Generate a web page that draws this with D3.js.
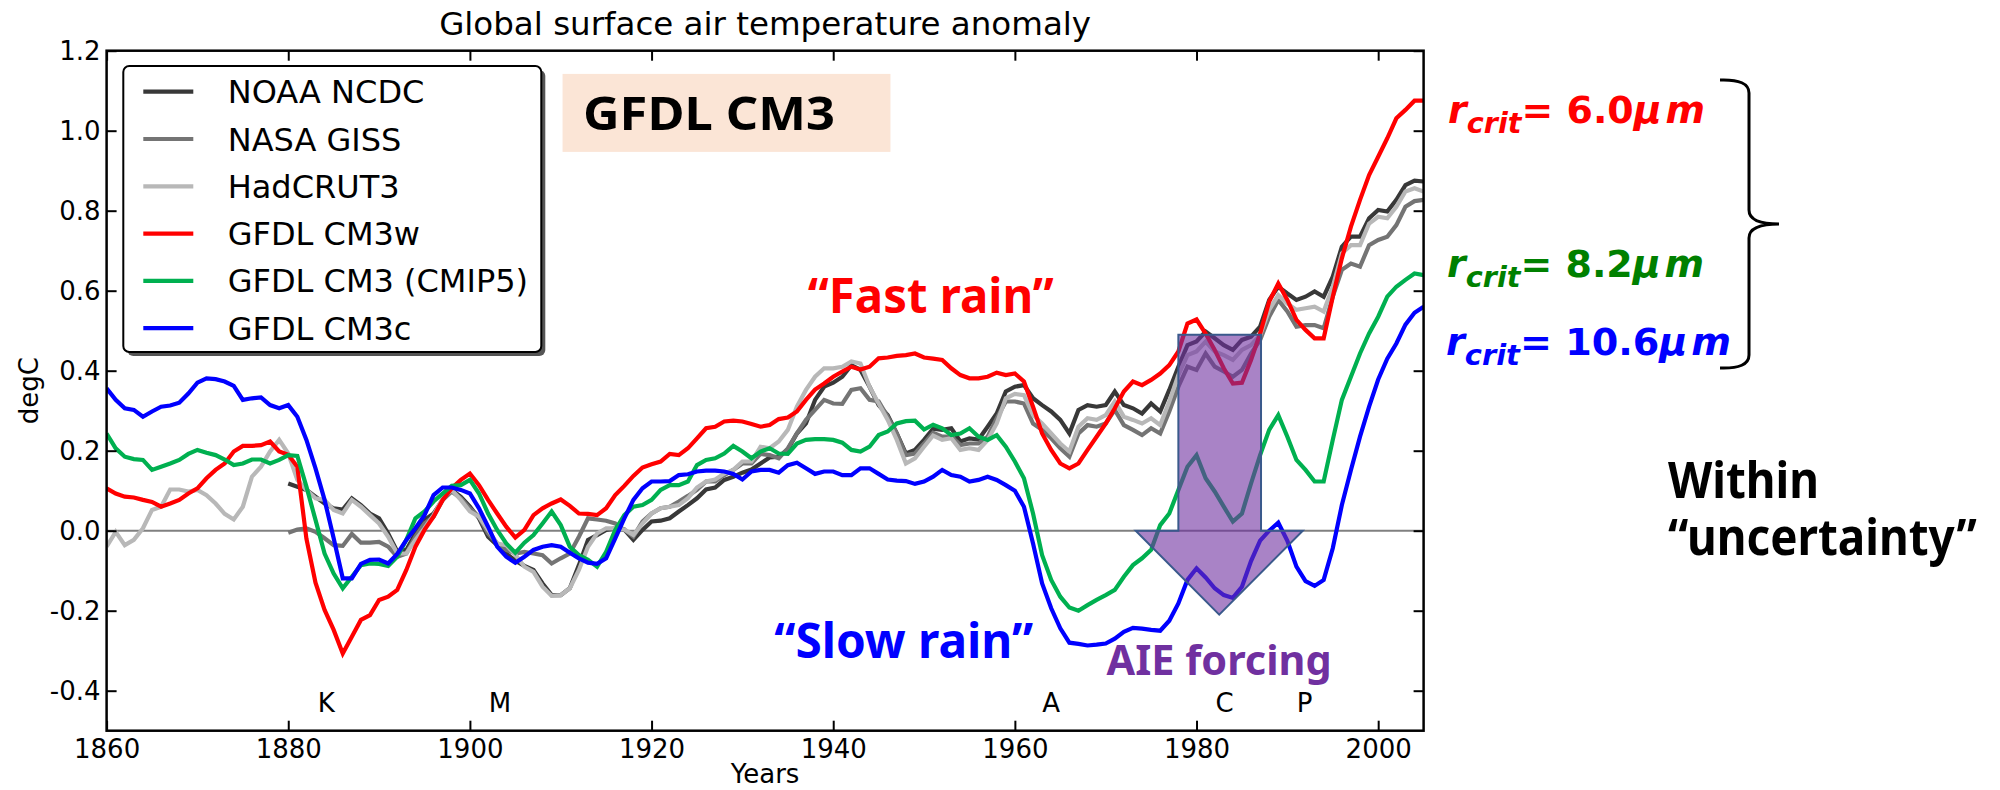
<!DOCTYPE html>
<html>
<head>
<meta charset="utf-8">
<script src="https://cdn.jsdelivr.net/npm/d3@7"></script>
<style>
  body { margin: 0; background: #fff; }
  svg { display: block; }
</style>
</head>
<body>
<svg id="chart" width="2000" height="790"></svg>
<script>
// ---- data: annual global-mean surface air temperature anomaly (degC) ----
const modelYears = d3.range(1860, 2006);
const obsYears = d3.range(1880, 2006);

const noaaNcdc = [
  0.118, 0.110, 0.102, 0.085, 0.068, 0.056, 0.053, 0.081, 0.064, 0.043,
  0.031, -0.007, -0.052, -0.048, -0.007, 0.027, 0.043, 0.077, 0.102, 0.085,
  0.060, 0.031, -0.015, -0.036, -0.057, -0.075, -0.088, -0.098, -0.132, -0.161,
  -0.161, -0.144, -0.086, -0.023, -0.011, 0.002, 0.006, 0.003, -0.023, 0.002,
  0.023, 0.025, 0.031, 0.048, 0.064, 0.081, 0.103, 0.108, 0.127, 0.135,
  0.145, 0.153, 0.168, 0.183, 0.185, 0.203, 0.243, 0.268, 0.327, 0.360,
  0.370, 0.385, 0.414, 0.402, 0.360, 0.314, 0.289, 0.243, 0.193, 0.202,
  0.227, 0.255, 0.252, 0.256, 0.223, 0.231, 0.228, 0.260, 0.293, 0.348,
  0.360, 0.364, 0.331, 0.314, 0.298, 0.277, 0.243, 0.302, 0.314, 0.310,
  0.314, 0.348, 0.314, 0.306, 0.293, 0.318, 0.298, 0.352, 0.410, 0.464,
  0.473, 0.498, 0.481, 0.464, 0.452, 0.477, 0.485, 0.510, 0.577, 0.610,
  0.593, 0.577, 0.585, 0.598, 0.585, 0.635, 0.710, 0.735, 0.735, 0.781,
  0.802, 0.798, 0.827, 0.864, 0.875, 0.873
];

const nasaGiss = [
  -0.005, 0.003, 0.006, -0.003, -0.019, -0.036, -0.038, -0.008, -0.030, -0.030,
  -0.028, -0.040, -0.065, -0.057, -0.015, 0.018, 0.035, 0.077, 0.098, 0.081,
  0.056, 0.035, -0.007, -0.032, -0.048, -0.057, -0.053, -0.057, -0.061, -0.082,
  -0.069, -0.057, -0.015, 0.031, 0.028, 0.025, 0.018, 0.002, -0.015, 0.023,
  0.043, 0.056, 0.060, 0.073, 0.087, 0.102, 0.123, 0.123, 0.139, 0.152,
  0.168, 0.168, 0.192, 0.189, 0.181, 0.206, 0.243, 0.277, 0.302, 0.327,
  0.318, 0.317, 0.352, 0.356, 0.327, 0.323, 0.285, 0.243, 0.189, 0.193,
  0.218, 0.245, 0.235, 0.235, 0.214, 0.218, 0.218, 0.235, 0.281, 0.323,
  0.323, 0.318, 0.268, 0.252, 0.231, 0.206, 0.185, 0.243, 0.264, 0.260,
  0.268, 0.302, 0.264, 0.252, 0.239, 0.256, 0.243, 0.298, 0.360, 0.410,
  0.402, 0.443, 0.410, 0.398, 0.385, 0.402, 0.443, 0.477, 0.535, 0.577,
  0.548, 0.510, 0.514, 0.514, 0.506, 0.585, 0.652, 0.668, 0.660, 0.714,
  0.727, 0.735, 0.764, 0.810, 0.824, 0.827
];

const hadcrut3 = [
  -0.040, -0.003, -0.036, -0.023, 0.006, 0.052, 0.060, 0.103, 0.103, 0.098,
  0.102, 0.089, 0.068, 0.042, 0.028, 0.060, 0.135, 0.160, 0.198, 0.227,
  0.193, 0.127, 0.102, 0.081, 0.077, 0.052, 0.043, 0.077, 0.060, 0.039,
  0.018, -0.015, -0.057, -0.057, -0.023, 0.006, 0.039, 0.081, 0.102, 0.077,
  0.048, 0.035, 0.002, -0.032, -0.036, -0.060, -0.090, -0.103, -0.140, -0.163,
  -0.161, -0.144, -0.098, -0.040, -0.007, 0.006, 0.006, 0.003, -0.011, 0.018,
  0.043, 0.056, 0.060, 0.064, 0.081, 0.108, 0.123, 0.128, 0.143, 0.152,
  0.173, 0.173, 0.210, 0.206, 0.223, 0.252, 0.310, 0.352, 0.385, 0.406,
  0.406, 0.410, 0.423, 0.418, 0.360, 0.318, 0.277, 0.227, 0.168, 0.181,
  0.210, 0.238, 0.227, 0.231, 0.202, 0.206, 0.202, 0.227, 0.268, 0.331,
  0.342, 0.339, 0.289, 0.268, 0.243, 0.218, 0.198, 0.260, 0.281, 0.277,
  0.289, 0.323, 0.285, 0.277, 0.268, 0.281, 0.264, 0.323, 0.389, 0.439,
  0.448, 0.473, 0.448, 0.439, 0.427, 0.452, 0.464, 0.489, 0.552, 0.589,
  0.568, 0.552, 0.556, 0.560, 0.548, 0.610, 0.693, 0.714, 0.714, 0.768,
  0.785, 0.781, 0.810, 0.848, 0.856, 0.848
];

const cm3w = [
  0.106, 0.093, 0.085, 0.083, 0.077, 0.072, 0.060, 0.068, 0.077, 0.093,
  0.106, 0.131, 0.152, 0.168, 0.198, 0.212, 0.212, 0.214, 0.223, 0.198,
  0.190, 0.160, -0.020, -0.130, -0.198, -0.248, -0.307, -0.265, -0.223, -0.211,
  -0.173, -0.165, -0.148, -0.098, -0.040, 0.002, 0.035, 0.077, 0.106, 0.127,
  0.143, 0.114, 0.077, 0.043, 0.010, -0.017, 0.002, 0.039, 0.056, 0.068,
  0.078, 0.062, 0.043, 0.042, 0.039, 0.056, 0.089, 0.112, 0.137, 0.158,
  0.166, 0.173, 0.192, 0.189, 0.206, 0.231, 0.256, 0.260, 0.273, 0.275,
  0.273, 0.267, 0.260, 0.264, 0.279, 0.283, 0.298, 0.327, 0.353, 0.368,
  0.385, 0.398, 0.410, 0.403, 0.410, 0.431, 0.433, 0.437, 0.439, 0.443,
  0.433, 0.430, 0.427, 0.406, 0.389, 0.381, 0.381, 0.385, 0.395, 0.389,
  0.393, 0.373, 0.310, 0.243, 0.202, 0.168, 0.156, 0.168, 0.202, 0.235,
  0.268, 0.306, 0.348, 0.373, 0.364, 0.377, 0.393, 0.414, 0.448, 0.518,
  0.528, 0.493, 0.452, 0.406, 0.368, 0.370, 0.427, 0.493, 0.573, 0.618,
  0.577, 0.527, 0.502, 0.481, 0.481, 0.585, 0.681, 0.760, 0.827, 0.889,
  0.935, 0.981, 1.031, 1.052, 1.075, 1.075
];

const cm3cmip5 = [
  0.243, 0.206, 0.185, 0.179, 0.177, 0.152, 0.160, 0.168, 0.177, 0.192,
  0.202, 0.195, 0.189, 0.178, 0.164, 0.168, 0.178, 0.178, 0.168, 0.177,
  0.189, 0.187, 0.110, 0.027, -0.057, -0.107, -0.144, -0.115, -0.086, -0.082,
  -0.083, -0.088, -0.065, -0.023, 0.031, 0.048, 0.073, 0.093, 0.112, 0.114,
  0.127, 0.093, 0.043, 0.002, -0.032, -0.055, -0.030, -0.011, 0.018, 0.048,
  0.014, -0.040, -0.061, -0.073, -0.090, -0.053, 0.002, 0.039, 0.060, 0.064,
  0.077, 0.102, 0.114, 0.114, 0.123, 0.164, 0.177, 0.181, 0.193, 0.212,
  0.198, 0.181, 0.198, 0.206, 0.193, 0.192, 0.218, 0.227, 0.229, 0.229,
  0.227, 0.220, 0.202, 0.198, 0.210, 0.239, 0.248, 0.268, 0.274, 0.275,
  0.253, 0.265, 0.256, 0.239, 0.243, 0.256, 0.235, 0.227, 0.239, 0.210,
  0.173, 0.131, 0.043, -0.061, -0.123, -0.165, -0.192, -0.200, -0.186, -0.173,
  -0.161, -0.148, -0.115, -0.086, -0.069, -0.048, 0.014, 0.043, 0.102, 0.160,
  0.189, 0.131, 0.098, 0.060, 0.023, 0.043, 0.118, 0.189, 0.252, 0.289,
  0.235, 0.177, 0.152, 0.123, 0.123, 0.227, 0.327, 0.385, 0.443, 0.493,
  0.535, 0.585, 0.610, 0.627, 0.643, 0.639
];

const cm3c = [
  0.356, 0.327, 0.306, 0.302, 0.285, 0.298, 0.310, 0.313, 0.320, 0.343,
  0.370, 0.381, 0.379, 0.373, 0.362, 0.327, 0.331, 0.333, 0.314, 0.306,
  0.314, 0.285, 0.227, 0.156, 0.077, -0.019, -0.119, -0.119, -0.083, -0.073,
  -0.072, -0.082, -0.058, -0.023, 0.006, 0.039, 0.089, 0.108, 0.108, 0.102,
  0.093, 0.056, 0.010, -0.040, -0.065, -0.080, -0.065, -0.048, -0.040, -0.036,
  -0.040, -0.055, -0.069, -0.080, -0.083, -0.069, -0.019, 0.031, 0.077, 0.106,
  0.123, 0.123, 0.124, 0.139, 0.141, 0.148, 0.150, 0.150, 0.148, 0.142,
  0.128, 0.148, 0.152, 0.152, 0.145, 0.164, 0.170, 0.156, 0.142, 0.148,
  0.148, 0.139, 0.139, 0.156, 0.156, 0.142, 0.128, 0.125, 0.124, 0.117,
  0.123, 0.135, 0.152, 0.139, 0.135, 0.123, 0.127, 0.135, 0.127, 0.114,
  0.100, 0.060, -0.032, -0.132, -0.194, -0.244, -0.280, -0.283, -0.287, -0.285,
  -0.282, -0.270, -0.253, -0.243, -0.245, -0.248, -0.250, -0.225, -0.182, -0.123,
  -0.094, -0.117, -0.144, -0.161, -0.168, -0.140, -0.076, -0.025, 0.000, 0.020,
  -0.025, -0.090, -0.126, -0.138, -0.123, -0.044, 0.064, 0.152, 0.235, 0.310,
  0.378, 0.430, 0.468, 0.515, 0.545, 0.560
];

const legendNames = ["NOAA NCDC", "NASA GISS", "HadCRUT3", "GFDL CM3w", "GFDL CM3 (CMIP5)", "GFDL CM3c"];
const seriesColors = ["#383838", "#747474", "#b8b8b8", "#ff0000", "#00b050", "#0000ff"];

const xTicks = [1860, 1880, 1900, 1920, 1940, 1960, 1980, 2000];
const yTicks = [-0.4, -0.2, 0.0, 0.2, 0.4, 0.6, 0.8, 1.0, 1.2];

// volcanic eruptions: Krakatoa, Santa Maria, Agung, El Chichon, Pinatubo
const eruptionLetters = ["K", "M", "A", "C", "P"];
const eruptionLabelYears = [1884.2, 1903.3, 1964.0, 1983.1, 1991.9];

const rcritValues = ["6.0", "8.2", "10.6"];
const rcritColors = ["#ff0000", "#008000", "#0000ff"];

// ---- layout ----
const svg = d3.select("#chart");
const x = d3.scaleLinear().domain([1860, 2005]).range([106.6, 1423.6]);
const y = d3.scaleLinear().domain([-0.5, 1.2]).range([730.7, 50.7]);
const [x0, x1] = x.range();
const [yb, yt] = y.range();

const series = [
  { years: obsYears, values: noaaNcdc },
  { years: obsYears, values: nasaGiss },
  { years: modelYears, values: hadcrut3 },
  { years: modelYears, values: cm3w },
  { years: modelYears, values: cm3cmip5 },
  { years: modelYears, values: cm3c }
].map((s, i) => ({ ...s, name: legendNames[i], color: seriesColors[i],
  points: s.years.map((yr, j) => [yr, s.values[j]]) }));

svg.append("defs").append("clipPath").attr("id", "plotClip")
  .append("rect").attr("x", x0).attr("y", yt).attr("width", x1 - x0).attr("height", yb - yt);

const FONT = "DejaVu Sans";
const ANNOT = "Noto Sans";

// title and axis labels
svg.append("text").attr("x", (x0 + x1) / 2).attr("y", 35)
  .attr("text-anchor", "middle").attr("font-family", FONT).attr("font-size", 32.5)
  .text("Global surface air temperature anomaly");
svg.append("text").attr("x", (x0 + x1) / 2).attr("y", 783)
  .attr("text-anchor", "middle").attr("font-family", FONT).attr("font-size", 26)
  .text("Years");
svg.append("text").attr("transform", `translate(38,${(yt + yb) / 2}) rotate(-90)`)
  .attr("text-anchor", "middle").attr("font-family", FONT).attr("font-size", 26)
  .text("degC");

// zero reference line
svg.append("line").attr("x1", x0).attr("x2", x1).attr("y1", y(0)).attr("y2", y(0))
  .attr("stroke", "#808080").attr("stroke-width", 2);

// series
const line = d3.line().x(d => x(d[0])).y(d => y(d[1]));
svg.append("g").attr("clip-path", "url(#plotClip)")
  .selectAll("path").data(series).join("path")
  .attr("d", d => line(d.points))
  .attr("fill", "none").attr("stroke", d => d.color)
  .attr("stroke-width", 4.2).attr("stroke-linejoin", "miter").attr("stroke-miterlimit", 4);

// aerosol indirect effect arrow
const aie = { shaft: [1978.0, 1987.1], head: [1973.3, 1991.7], top: 0.49, base: 0.0, tip: [1982.5, -0.21] };
const arrowPts = [
  [aie.shaft[0], aie.top], [aie.shaft[1], aie.top], [aie.shaft[1], aie.base],
  [aie.head[1], aie.base], [aie.tip[0], aie.tip[1]], [aie.head[0], aie.base],
  [aie.shaft[0], aie.base]
];
svg.append("path").attr("d", line(arrowPts) + "Z")
  .attr("fill", "rgba(112,48,160,0.6)").attr("stroke", "#3a5a8c").attr("stroke-width", 2)
  .attr("stroke-linejoin", "miter");

// axes: ticks point inward on all four sides
function styleAxis(g) {
  g.select(".domain").remove();
  g.selectAll(".tick line").attr("stroke", "#000").attr("stroke-width", 2);
  g.selectAll(".tick text").attr("fill", "#000");
  g.attr("font-family", FONT).attr("font-size", 26);
}
svg.append("g").attr("transform", `translate(0,${yb})`)
  .call(d3.axisBottom(x).tickValues(xTicks).tickSizeInner(-10).tickSizeOuter(0).tickPadding(9).tickFormat(d3.format("d")))
  .call(styleAxis);
svg.append("g").attr("transform", `translate(0,${yt})`)
  .call(d3.axisTop(x).tickValues(xTicks).tickSizeInner(-10).tickSizeOuter(0).tickFormat(""))
  .call(styleAxis);
svg.append("g").attr("transform", `translate(${x0},0)`)
  .call(d3.axisLeft(y).tickValues(yTicks).tickSizeInner(-10).tickSizeOuter(0).tickPadding(6).tickFormat(d => d.toFixed(1)))
  .call(styleAxis);
svg.append("g").attr("transform", `translate(${x1},0)`)
  .call(d3.axisRight(y).tickValues(yTicks).tickSizeInner(-10).tickSizeOuter(0).tickFormat(""))
  .call(styleAxis);
svg.append("rect").attr("x", x0).attr("y", yt).attr("width", x1 - x0).attr("height", yb - yt)
  .attr("fill", "none").attr("stroke", "#000").attr("stroke-width", 2.5);

// eruption letters
svg.append("g").selectAll("text").data(eruptionLetters).join("text")
  .attr("x", (d, i) => x(eruptionLabelYears[i])).attr("y", y(-0.4525))
  .attr("text-anchor", "middle").attr("font-family", FONT).attr("font-size", 26)
  .text(d => d);

// legend
const lg = { x: 123.3, y: 66, w: 418, h: 286, row0: 91.7, step: 47.3, lx0: 143.3, lx1: 193.3, tx: 227.7 };
const legend = svg.append("g");
legend.append("rect").attr("x", lg.x + 4).attr("y", lg.y + 4).attr("width", lg.w).attr("height", lg.h)
  .attr("rx", 6).attr("fill", "#555");
legend.append("rect").attr("x", lg.x).attr("y", lg.y).attr("width", lg.w).attr("height", lg.h)
  .attr("rx", 6).attr("fill", "#fff").attr("stroke", "#000").attr("stroke-width", 2);
const rows = legend.selectAll("g.row").data(series).join("g").attr("class", "row")
  .attr("transform", (d, i) => `translate(0,${lg.row0 + i * lg.step})`);
rows.append("line").attr("x1", lg.lx0).attr("x2", lg.lx1)
  .attr("stroke", d => d.color).attr("stroke-width", 4.2);
rows.append("text").attr("x", lg.tx).attr("y", 11.5)
  .attr("font-family", FONT).attr("font-size", 32).text(d => d.name);

// annotation text, stretched horizontally to its box width
function fittedText(parent, str, o) {
  const g = parent.append("g");
  const t = g.append("text")
    .attr("font-family", o.family || ANNOT).attr("font-weight", o.weight || "bold")
    .attr("font-size", o.size).attr("fill", o.color || "#000").text(str);
  const w = t.node().getComputedTextLength();
  g.attr("transform", `translate(${o.x},${o.baseline}) scale(${o.width / w},1)`);
  return g;
}

// model name box
svg.append("rect").attr("x", x(1910.2)).attr("y", y(1.142))
  .attr("width", x(1946.3) - x(1910.2)).attr("height", y(0.947) - y(1.142))
  .attr("fill", "#fbe5d6");
fittedText(svg, "GFDL CM3", { x: x(1912.45), baseline: y(1.003), width: 252, size: 45.7 });

fittedText(svg, "\u201CFast rain\u201D", { x: x(1937.2), baseline: y(0.544), width: 246, size: 48.5, color: "#ff0000" });
fittedText(svg, "\u201CSlow rain\u201D", { x: x(1933.5), baseline: y(-0.318), width: 259, size: 47.5, color: "#0000ff" });
fittedText(svg, "AIE forcing", { x: x(1970.1), baseline: y(-0.361), width: 225, size: 40.5, color: "#7030a0" });

// critical radius labels
const rcritLayout = [
  { baseline: 123, x: 1448, width: 257 },
  { baseline: 277, x: 1447, width: 257 },
  { baseline: 355, x: 1446, width: 285 }
];
rcritValues.forEach((v, i) => {
  const L = rcritLayout[i];
  const g = svg.append("g");
  const t = g.append("text").attr("font-family", FONT).attr("font-weight", "bold")
    .attr("font-size", 37).attr("fill", rcritColors[i]);
  t.append("tspan").attr("font-style", "italic").text("r");
  t.append("tspan").attr("font-style", "italic").attr("font-size", 28).attr("dy", 10).text("crit");
  t.append("tspan").attr("dy", -10).text("= " + v);
  t.append("tspan").attr("font-style", "italic").text("\u03BC\u200Am");
  const w = t.node().getComputedTextLength();
  g.attr("transform", `translate(${L.x},${L.baseline}) scale(${L.width / w},1)`);
});

// brace grouping the three labels
svg.append("path")
  .attr("d", "M1720,80 Q1749,79 1749,93 V210 Q1749,224 1779,224 Q1749,224 1749,238 V355 Q1749,369 1720,368")
  .attr("fill", "none").attr("stroke", "#000").attr("stroke-width", 3);

// two-line note, one text element
{
  const g = svg.append("g");
  const t = g.append("text").attr("font-family", ANNOT).attr("font-weight", "bold")
    .attr("font-size", 51).attr("fill", "#000");
  t.append("tspan").attr("x", 0).attr("y", 0).text("Within");
  const l2 = t.append("tspan").attr("x", 0).attr("y", 57).text("\u201Cuncertainty\u201D");
  const w = l2.node().getComputedTextLength();
  g.attr("transform", `translate(1668,498) scale(${309 / w},1)`);
}
</script>
</body>
</html>
